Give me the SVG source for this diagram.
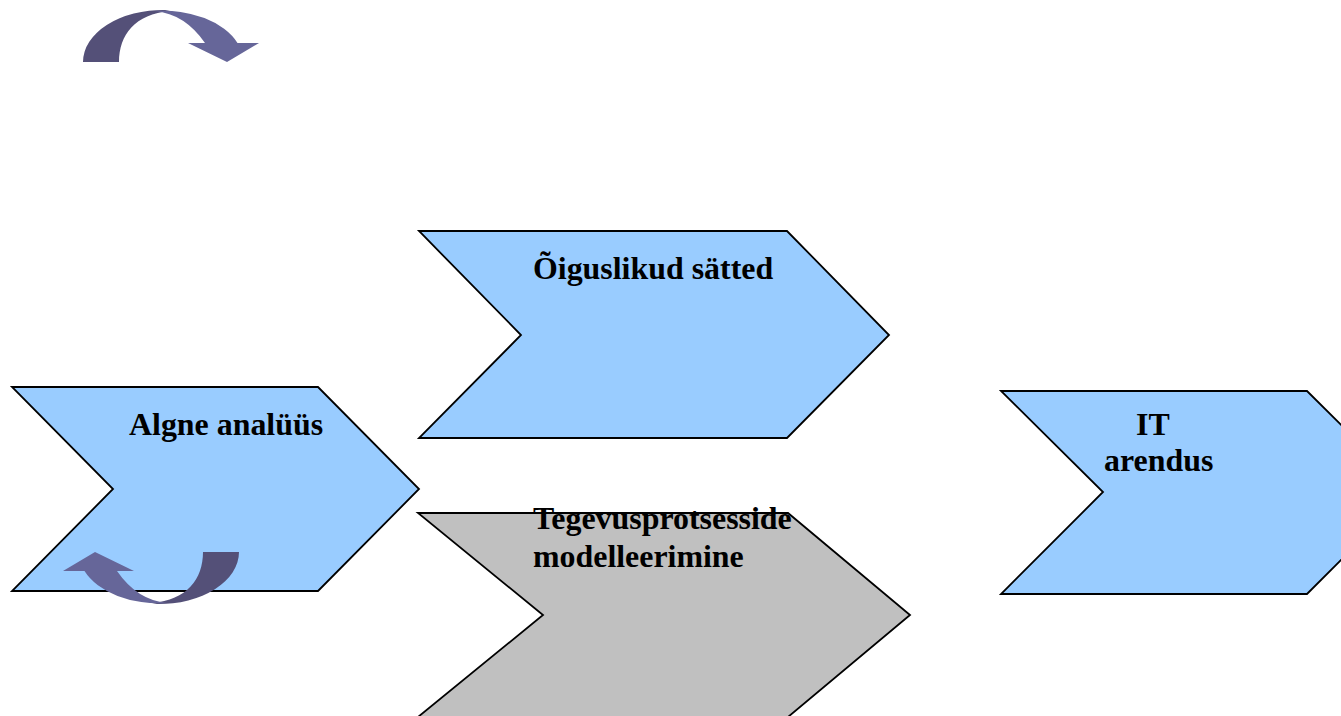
<svg xmlns="http://www.w3.org/2000/svg" width="1341" height="716" viewBox="0 0 1341 716">
<style>
.blue{fill:#99CCFF;stroke:#000;stroke-width:1.8;stroke-linejoin:miter}
.grey{fill:#C0C0C0;stroke:#000;stroke-width:1.8}
.lbl{font-family:"Liberation Serif","Times New Roman",serif;font-weight:bold;font-size:31.9px;fill:#000}
.dark{fill:#545078}
.light{fill:#666699}
</style>
<defs>
<g id="curved">
<path class="dark" d="M83,62 A80,52 0 0 1 165,10 L170,11 C135,14 119,35 119,62 Z"/>
<path class="light" d="M155,11 A80,52 0 0 1 237.5,43 L259,43 L227,62 L188,43 L205,43 Q185,14 155,11 Z"/>
</g>
</defs>
<g id="arrow-top"><use href="#curved"/></g>
<g id="node-algne">
<polygon class="blue" points="12,387 318,387 419,489 318,591 12,591 113,489"/>
<text class="lbl" x="129" y="435">Algne analüüs</text>
</g>
<g id="node-oiguslikud">
<polygon class="blue" points="419,231 787,231 889,335 787,438 419,438 521,335"/>
<text class="lbl" x="533" y="279">Õiguslikud sätted</text>
</g>
<g id="node-tegevus">
<polygon class="grey" points="418,513 788,513 910,615 788,717 418,717 543,615"/>
<text class="lbl" x="533" y="529">Tegevusprotsesside</text>
<text class="lbl" x="533" y="567">modelleerimine</text>
</g>
<g id="node-it">
<polygon class="blue" points="1001,391 1307,391 1409,492 1307,594 1001,594 1103,492"/>
<text class="lbl" x="1136" y="435">IT</text>
<text class="lbl" x="1104" y="471">arendus</text>
</g>
<g id="arrow-bottom"><use href="#curved" transform="translate(322,614) scale(-1,-1)"/></g>
<g id="connectors"></g>
</svg>
